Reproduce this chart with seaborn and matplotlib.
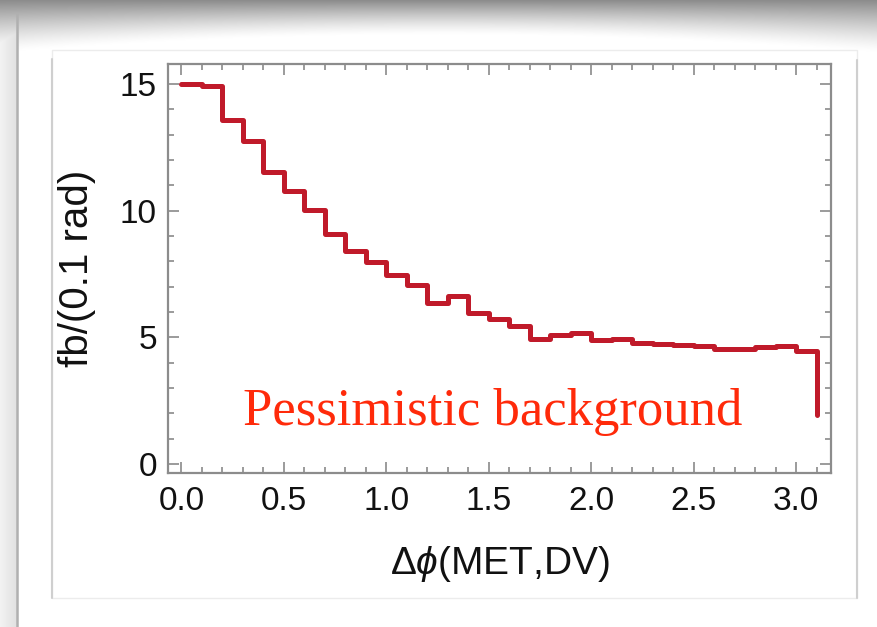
import numpy as np
import pandas as pd
import matplotlib
matplotlib.use("Agg")
import matplotlib.pyplot as plt
import seaborn as sns
from matplotlib.ticker import MultipleLocator, FormatStrFormatter
from matplotlib.patches import Rectangle
from matplotlib.lines import Line2D

# ---- data ----
bin_edges = [0.0, 0.1, 0.2, 0.3, 0.4, 0.5, 0.6, 0.7, 0.8, 0.9,
             1.0, 1.1, 1.2, 1.3, 1.4, 1.5, 1.6, 1.7, 1.8, 1.9,
             2.0, 2.1, 2.2, 2.3, 2.4, 2.5, 2.6, 2.7, 2.8, 2.9,
             3.0, 3.1]
bin_values = [15.00, 14.93, 13.57, 12.74, 11.54, 10.78, 10.02, 9.06, 8.40, 7.98,
              7.44, 7.07, 6.36, 6.62, 5.96, 5.72, 5.46, 4.93, 5.10, 5.17,
              4.91, 4.95, 4.78, 4.74, 4.68, 4.64, 4.54, 4.55, 4.62, 4.64,
              4.44]
end_value = 1.94
x_ticks = [0.0, 0.5, 1.0, 1.5, 2.0, 2.5, 3.0]
y_ticks = [0, 5, 10, 15]
x_label = r"$\Delta\phi$(MET,DV)"
y_label = "fb/(0.1 rad)"
annotation = "Pessimistic background"

sns.set_theme(style="white")
plt.rcParams["font.family"] = ["Liberation Sans", "DejaVu Sans"]
plt.rcParams["mathtext.fontset"] = "custom"
plt.rcParams["mathtext.rm"] = "Liberation Sans"
plt.rcParams["mathtext.it"] = "Liberation Sans:italic"

W, H = 878, 627
fig = plt.figure(figsize=(W / 100, H / 100), dpi=100)
fig.patch.set_facecolor("white")

def fx(x):
    return x / W

def fy(y):
    return 1 - y / H

# ---- page decoration (slide frame) ----
bg = fig.add_axes([0, 0, 1, 1], zorder=-5)
bg.set_axis_off()
bg.set_xlim(0, W)
bg.set_ylim(H, 0)
rgba = np.ones((H, W, 4))
yy = np.arange(H)[:, None]
xx = np.arange(W)[None, :]
depth = 34 + 18 * ((xx - W / 2) / (W / 2)) ** 2
shade = np.clip(1 - yy / depth, 0, 1) ** 1.3 * 0.45
left = np.where(xx < 17, 0.05 + 0.07 * (xx / 17), 0.0)
dark = np.maximum(shade, left)
rgba[..., 0] = 1 - dark
rgba[..., 1] = 1 - dark
rgba[..., 2] = 1 - dark
bg.imshow(rgba, extent=(0, W, H, 0), aspect="auto", interpolation="bilinear")
bg.add_line(Line2D([17, 17], [14, H], color="#b0b0b0", lw=1.8))
bg.add_patch(Rectangle((52, 50), 857 - 52, 598 - 50, fill=False,
                       edgecolor="#ececec", lw=1.0))
bg.add_line(Line2D([52, 52], [59, 598], color="#cfcfcf", lw=1.5))
bg.add_line(Line2D([857, 857], [60, 598], color="#cfcfcf", lw=1.5))

# ---- main axes ----
ax = fig.add_axes([fx(168), fy(473), fx(831) - fx(168), fy(64) - fy(473)])
ax.set_facecolor("white")

df = pd.DataFrame({"x": bin_edges, "y": bin_values + [end_value]})
sns.lineplot(data=df, x="x", y="y", ax=ax, estimator=None,
             drawstyle="steps-post", color="#c01a2a", lw=3.6)

ax.set_xlim(-0.065, 3.17)
ax.set_ylim(-0.36, 15.79)
ax.set_xticks(x_ticks)
ax.set_yticks(y_ticks)
ax.xaxis.set_minor_locator(MultipleLocator(0.1))
ax.yaxis.set_minor_locator(MultipleLocator(1))
ax.xaxis.set_major_formatter(FormatStrFormatter("%.1f"))
ax.yaxis.set_major_formatter(FormatStrFormatter("%d"))
ax.tick_params(which="both", direction="in", top=True, right=True,
               bottom=True, left=True, color="#8a8a8a", width=1.2,
               labelsize=24, labelcolor="#111111")
ax.tick_params(which="major", length=8)
ax.tick_params(which="minor", length=4)
ax.tick_params(axis="x", which="major", pad=9)
ax.tick_params(axis="y", which="major", pad=8)
for s in ax.spines.values():
    s.set_color("#8c8c8c")
    s.set_linewidth(1.6)
ax.grid(False)

ax.set_xlabel(x_label, fontsize=28, color="#111111", labelpad=20)
ax.set_ylabel(y_label, fontsize=29, color="#111111", labelpad=17)

ax.text(0.30, 1.54, annotation, family=["Liberation Serif", "DejaVu Serif"],
        fontsize=38, color="#ff2a0a", ha="left", va="baseline")

fig.savefig("out.png", dpi=100, facecolor="white")
